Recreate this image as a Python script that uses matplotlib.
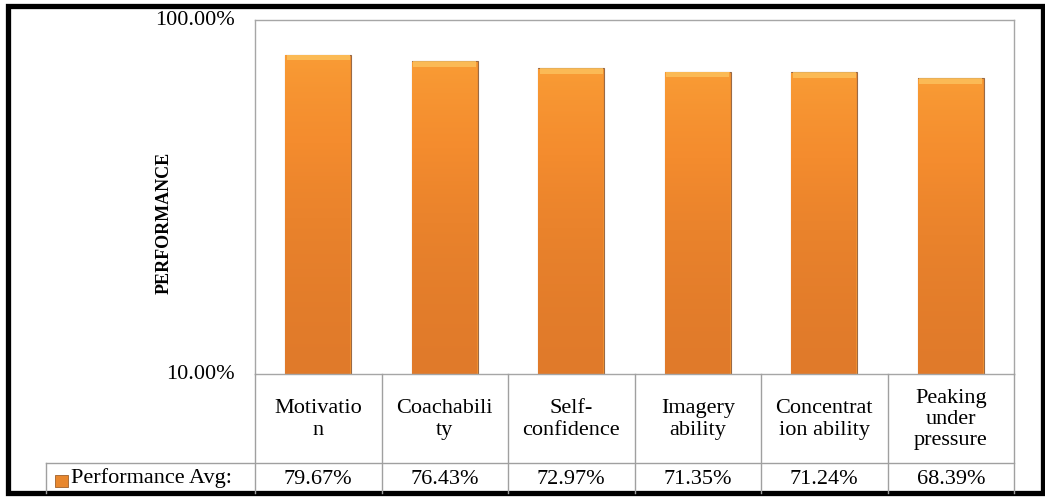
import matplotlib.pyplot as plt
import numpy as np
from matplotlib.patches import Rectangle
from matplotlib.colors import LinearSegmentedColormap

# data
categories = ['Motivatio\nn', 'Coachabili\nty', 'Self-\nconfidence', 'Imagery\nability',
              'Concentrat\nion ability', 'Peaking\nunder\npressure']
values = [79.67, 76.43, 72.97, 71.35, 71.24, 68.39]
value_labels = ['79.67%', '76.43%', '72.97%', '71.35%', '71.24%', '68.39%']
series_name = 'Performance Avg:'
y_ticks = [10, 100]
y_tick_labels = ['10.00%', '100.00%']

plt.rcParams['font.family'] = 'serif'
plt.rcParams['font.serif'] = ['Liberation Serif', 'DejaVu Serif']

W, H = 1045, 498
fig = plt.figure(figsize=(W / 100, H / 100), dpi=100)


def fx(px):
    return px / W


def fy(py):
    return 1 - py / H


fs = 16
left, right, top, bottom = 255, 1014, 20, 374
ax = fig.add_axes([fx(left), fy(bottom), fx(right - left), fy(top) - fy(bottom)])
ax.set_yscale('log')
ax.set_ylim(10, 100)
ax.set_xlim(-0.5, len(categories) - 0.5)

x = np.arange(len(categories))
bars = ax.bar(x, values, width=0.52, bottom=0, color='#F39230',
              edgecolor='#9A6A45', linewidth=0.8, zorder=2)

# orange gradient inside each bar
cmap = LinearSegmentedColormap.from_list('og', ['#E07A2A', '#F48C2E', '#F99C35'])
grad = np.linspace(0, 1, 256).reshape(-1, 1)
for b, v in zip(bars, values):
    x0 = b.get_x()
    w = b.get_width()
    im = ax.imshow(grad, cmap=cmap, aspect='auto', origin='lower',
                   extent=[x0, x0 + w, 10, v], zorder=2.1)
    im.set_clip_path(b)
    # top bevel highlight
    ax.fill_between([x0 + 0.01, x0 + w - 0.01], v * 0.965, v, color='#FCC35E',
                    alpha=0.8, zorder=2.2, linewidth=0)
ax.set_xlim(-0.5, len(categories) - 0.5)
ax.set_ylim(10, 100)

ax.set_xticks([])
ax.set_yticks([])
ax.minorticks_off()
ax.tick_params(which='both', left=False, bottom=False, labelleft=False)
for s in ax.spines.values():
    s.set_color('#A6A6A6')
    s.set_linewidth(1.0)

# y tick labels (placed at the left of the chart like Excel does)
for t, lab in zip(y_ticks, y_tick_labels):
    ax.text(-20 / (right - left), t, lab, transform=ax.get_yaxis_transform(),
            ha='right', va='center', fontsize=fs)

fig.text(fx(164), fy(223), 'PERFORMANCE', rotation=90, ha='center', va='center',
         fontsize=13, fontweight='bold')

# data table below the plot
row1_bot, row2_bot = 463, 493
col_w = (right - left) / len(categories)
gc = '#A0A0A0'
lw = 1.0
fig.add_artist(plt.Line2D([fx(46), fx(right)], [fy(row1_bot)] * 2, color=gc, lw=lw))
fig.add_artist(plt.Line2D([fx(46), fx(46)], [fy(row1_bot), fy(row2_bot)], color=gc, lw=lw))
for i in range(len(categories) + 1):
    xp = left + i * col_w
    fig.add_artist(plt.Line2D([fx(xp), fx(xp)], [fy(bottom), fy(row2_bot)], color=gc, lw=lw))
for i, (c, vl) in enumerate(zip(categories, value_labels)):
    xc = left + (i + 0.5) * col_w
    fig.text(fx(xc), fy((bottom + row1_bot) / 2 + 1), c, ha='center', va='center',
             fontsize=fs, linespacing=1.15)
    fig.text(fx(xc), fy((row1_bot + row2_bot) / 2 + 1), vl, ha='center', va='center',
             fontsize=fs)

# legend key
fig.add_artist(Rectangle((fx(55), fy(487)), fx(13), fy(475) - fy(487), facecolor='#E8872E',
                         edgecolor='#A0602A', lw=0.6))
fig.text(fx(71), fy(478), series_name, ha='left', va='center', fontsize=fs)

# outer black frame
fig.add_artist(Rectangle((fx(7.5), fy(492.5)), fx(1035), fy(6) - fy(492.5), fill=False,
                         edgecolor='black', lw=3.8))

fig.savefig('out.png', dpi=100)
